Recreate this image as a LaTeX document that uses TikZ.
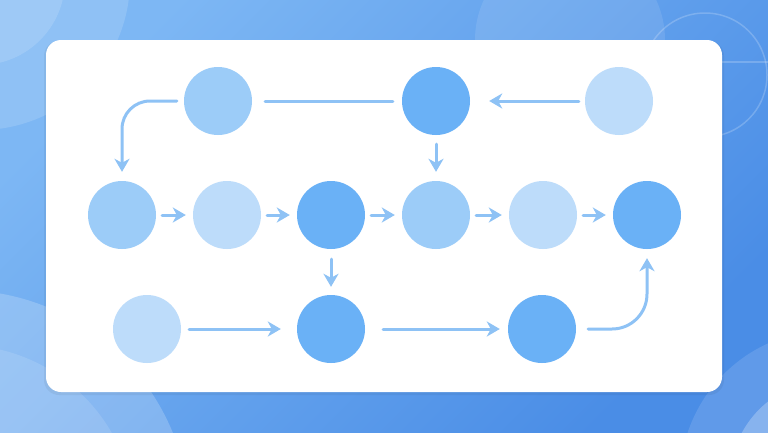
\documentclass[tikz,border=0pt]{standalone}
\usetikzlibrary{arrows.meta}
\definecolor{bglight}{HTML}{7DB7F4}
\definecolor{bgdark}{HTML}{4A8DE6}
\definecolor{nodedark}{HTML}{6AB1F6}
\definecolor{nodemid}{HTML}{9CCCF8}
\definecolor{nodelight}{HTML}{BDDCFA}
\definecolor{flowblue}{HTML}{8EC2F5}
\tikzset{
	state/.style={circle,minimum size=68pt,inner sep=0pt},
	dk/.style={state,fill=nodedark},
	md/.style={state,fill=nodemid},
	lt/.style={state,fill=nodelight},
	flow/.style={draw=flowblue,line width=3pt,line cap=round},
}
\begin{document}
\begin{tikzpicture}[line cap=round,line join=round,>={Stealth[length=13pt,width=15pt,inset=4pt]},
		x=1pt,y=-1pt]
		\useasboundingbox (0,0) rectangle (768,432);
		\shade[top color=bglight,bottom color=bgdark,shading angle=45] (0,0) rectangle (768,432);
		\begin{scope}
			\clip (0,0) rectangle (768,432);
			\fill[white,opacity=0.14] (-20,-20) circle (150);%alto sinistra
			\fill[white,opacity=0.14] (-20,-20) circle (85);
			\fill[white,opacity=0.2] (-40,520) circle (230);%basso sinistra
			\fill[white,opacity=0.12] (-40,520) circle (175);
			\fill[white,opacity=0.1] (570,40) circle (95);%alto destra
			\draw[white,opacity=0.2,line width=1.5pt] (705,75) circle (62);
			\draw[white,opacity=0.2,line width=1.5pt] (722,62) -- (768,62);
			\fill[white,opacity=0.12] (830,480) circle (150);%basso destra
			\fill[white,opacity=0.25] (830,480) circle (100);
		\end{scope}
		\fill[black,opacity=0.05,rounded corners=15pt] (44,41) rectangle (724,395);
		\fill[white,rounded corners=15pt] (46,40) rectangle (722,392);
		% riga 1
		\node[md] (a1) at (218,101) {};
		\node[dk] (a2) at (436,101) {};
		\node[lt] (a3) at (619,101) {};
		% riga 2
		\node[md] (b1) at (122,215) {};
		\node[lt] (b2) at (227,215) {};
		\node[dk] (b3) at (331,215) {};
		\node[md] (b4) at (436,215) {};
		\node[lt] (b5) at (543,215) {};
		\node[dk] (b6) at (647,215) {};
		% riga 3
		\node[lt] (c1) at (147,329) {};
		\node[dk] (c2) at (331,329) {};
		\node[dk] (c3) at (542,329) {};
		\draw[flow,shorten <=13pt,shorten >=9pt] (a1) -- (a2);
		\draw[flow,->,shorten <=6pt,shorten >=19pt] (a3) -- (a2);
		\draw[flow,->,rounded corners=28pt,shorten <=7pt,shorten >=9pt] (a1.west) -| (b1.north);
		\draw[flow,->,shorten <=9pt,shorten >=9pt] (a2) -- (b4);
		\foreach \s/\t in {b1/b2,b2/b3,b3/b4,b4/b5,b5/b6}
			\draw[flow,->,shorten <=6pt,shorten >=7pt] (\s) -- (\t);
		\draw[flow,->,shorten <=10pt,shorten >=8pt] (b3) -- (c2);
		\draw[flow,->,shorten <=8pt,shorten >=16pt] (c1) -- (c2);
		\draw[flow,->,shorten <=18pt,shorten >=8pt] (c2) -- (c3);
		\draw[flow,->,rounded corners=35pt,shorten <=12pt,shorten >=9pt] (c3.east) -| (b6.south);
\end{tikzpicture}
\end{document}
